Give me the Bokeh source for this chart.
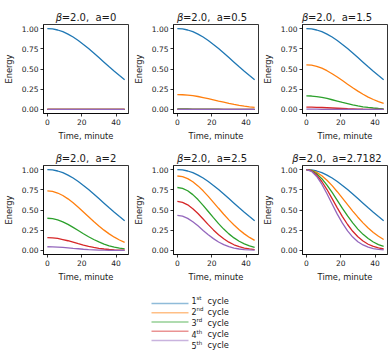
from bokeh.plotting import figure
from bokeh.layouts import column, row
from bokeh.models import Range1d, FixedTicker, NumeralTickFormatter, Label
from bokeh.embed import file_html
from bokeh.resources import INLINE

# ---------------- data ----------------
time_min = [0, 3, 6, 9, 12, 15, 18, 21, 24, 27, 30, 33, 36, 39, 42, 45]
beta_text = "2.0"
a_labels = ["0", "0.5", "1.5", "2", "2.5", "2.7182"]
cycle_numbers = ["1", "2", "3", "4", "5"]
cycle_suffixes = ["st", "nd", "rd", "th", "th"]
zeros = [0.0] * 16

first_cycle = [1.000, 0.996, 0.982, 0.961, 0.931, 0.895, 0.852, 0.804, 0.752, 0.698, 0.641, 0.584, 0.527, 0.472, 0.419, 0.368]

# a = 0
a0_c1 = first_cycle
a0_c2 = zeros
a0_c3 = zeros
a0_c4 = zeros
a0_c5 = zeros

# a = 0.5
a05_c1 = first_cycle
a05_c2 = [0.184, 0.182, 0.178, 0.170, 0.160, 0.147, 0.134, 0.119, 0.104, 0.090, 0.076, 0.063, 0.051, 0.041, 0.032, 0.025]
a05_c3 = [0.006, 0.006, 0.006, 0.005, 0.005, 0.004, 0.004, 0.003, 0.003, 0.002, 0.002, 0.001, 0.001, 0.001, 0.000, 0.000]
a05_c4 = zeros
a05_c5 = zeros

# a = 1.5
a15_c1 = first_cycle
a15_c2 = [0.552, 0.547, 0.533, 0.510, 0.479, 0.442, 0.401, 0.357, 0.312, 0.269, 0.227, 0.188, 0.153, 0.123, 0.097, 0.075]
a15_c3 = [0.168, 0.166, 0.159, 0.149, 0.136, 0.120, 0.104, 0.087, 0.072, 0.057, 0.044, 0.033, 0.025, 0.018, 0.012, 0.008]
a15_c4 = [0.028, 0.028, 0.026, 0.024, 0.021, 0.018, 0.015, 0.012, 0.009, 0.007, 0.005, 0.003, 0.002, 0.001, 0.001, 0.001]
a15_c5 = [0.003, 0.003, 0.003, 0.002, 0.002, 0.002, 0.001, 0.001, 0.001, 0.000, 0.000, 0.000, 0.000, 0.000, 0.000, 0.000]

# a = 2
a2_c1 = first_cycle
a2_c2 = [0.736, 0.730, 0.710, 0.679, 0.638, 0.589, 0.534, 0.476, 0.417, 0.358, 0.303, 0.251, 0.205, 0.164, 0.129, 0.100]
a2_c3 = [0.398, 0.393, 0.377, 0.353, 0.322, 0.285, 0.246, 0.207, 0.170, 0.135, 0.105, 0.079, 0.058, 0.042, 0.029, 0.020]
a2_c4 = [0.159, 0.156, 0.148, 0.135, 0.120, 0.102, 0.084, 0.067, 0.051, 0.038, 0.027, 0.018, 0.012, 0.008, 0.005, 0.003]
a2_c5 = [0.046, 0.045, 0.042, 0.038, 0.032, 0.026, 0.021, 0.015, 0.011, 0.008, 0.005, 0.003, 0.002, 0.001, 0.001, 0.000]

# a = 2.5
a25_c1 = first_cycle
a25_c2 = [0.920, 0.912, 0.888, 0.849, 0.798, 0.737, 0.668, 0.595, 0.521, 0.448, 0.378, 0.314, 0.256, 0.205, 0.161, 0.124]
a25_c3 = [0.778, 0.768, 0.738, 0.690, 0.629, 0.557, 0.481, 0.405, 0.331, 0.264, 0.205, 0.155, 0.114, 0.082, 0.057, 0.039]
a25_c4 = [0.606, 0.595, 0.564, 0.516, 0.456, 0.389, 0.319, 0.254, 0.194, 0.144, 0.102, 0.070, 0.047, 0.030, 0.019, 0.011]
a25_c5 = [0.433, 0.424, 0.396, 0.354, 0.304, 0.248, 0.194, 0.146, 0.104, 0.072, 0.047, 0.029, 0.018, 0.010, 0.006, 0.003]

# a = 2.7182
ae_c1 = first_cycle
ae_c2 = [1.000, 0.991, 0.965, 0.923, 0.868, 0.801, 0.726, 0.647, 0.566, 0.487, 0.411, 0.341, 0.278, 0.223, 0.175, 0.135]
ae_c3 = [1.000, 0.987, 0.948, 0.887, 0.808, 0.717, 0.619, 0.520, 0.426, 0.340, 0.264, 0.199, 0.147, 0.105, 0.073, 0.050]
ae_c4 = [1.000, 0.983, 0.931, 0.852, 0.753, 0.641, 0.527, 0.419, 0.321, 0.237, 0.169, 0.116, 0.077, 0.050, 0.031, 0.018]
ae_c5 = [1.000, 0.978, 0.915, 0.819, 0.701, 0.574, 0.449, 0.337, 0.241, 0.165, 0.108, 0.068, 0.041, 0.023, 0.013, 0.007]

x_ticks = [0, 20, 40]
y_ticks = [0.0, 0.25, 0.5, 0.75, 1.0]

# ---------------- styling ----------------
colors = ["#1f77b4", "#ff7f0e", "#2ca02c", "#d62728", "#9467bd"]
FONT = "DejaVu Sans"
TXT = "#1a1a1a"
NBSP = "\u00a0"
# approximate DejaVu Sans advance widths (em) for centering the titles
CW = {"=": 0.838, ".": 0.318, ",": 0.318, " ": 0.318, NBSP: 0.318, "a": 0.613}
for d in "0123456789":
    CW[d] = 0.636
BETA_W = 0.60
TITLE_PX = 10.0

FRAME_W = 85
FRAME_H = 89
frame_centers = [85.5, 211.5, 336.5]


def text_w(s, px):
    return sum(CW.get(ch, 0.6) for ch in s) * px


def make_panel(curves, left, right, bottom):
    p = figure(frame_width=FRAME_W, frame_height=FRAME_H,
               x_range=Range1d(-2.25, 47.25), y_range=Range1d(-0.05, 1.05),
               output_backend="svg", toolbar_location=None,
               min_border_left=left, min_border_right=right,
               min_border_top=1, min_border_bottom=bottom,
               background_fill_color="white", border_fill_color="white")
    for c, y in zip(colors, curves):
        p.line(time_min, y, line_color=c, line_width=1.3)
    p.grid.visible = False
    p.outline_line_color = "black"
    p.outline_line_width = 0.8
    for ax in (p.xaxis[0], p.yaxis[0]):
        ax.axis_line_width = 0.8
        ax.major_tick_line_width = 0.8
        ax.major_tick_out = 3
        ax.major_tick_in = 0
        ax.minor_tick_line_color = None
        ax.major_label_text_font = FONT
        ax.major_label_text_font_size = "7.5px"
        ax.major_label_text_color = TXT
        ax.major_label_standoff = 2
        ax.axis_label_text_font = FONT
        ax.axis_label_text_font_size = "8.3px"
        ax.axis_label_text_font_style = "normal"
        ax.axis_label_text_color = TXT
    p.xaxis.ticker = FixedTicker(ticks=x_ticks)
    p.yaxis.ticker = FixedTicker(ticks=y_ticks)
    p.yaxis.formatter = NumeralTickFormatter(format="0.00")
    p.xaxis.axis_label = "Time, minute"
    p.yaxis.axis_label = "Energy"
    p.xaxis.axis_label_standoff = 3
    p.yaxis.axis_label_standoff = 5
    return p


def make_title_strip(h, y_center, labels):
    s = figure(width=391, height=h, x_range=Range1d(0, 391), y_range=Range1d(h, 0),
               output_backend="svg", toolbar_location=None, min_border=0,
               x_axis_type=None, y_axis_type=None, outline_line_color=None,
               background_fill_color="white", border_fill_color="white")
    s.grid.visible = False
    for cx, a_txt in zip(frame_centers, labels):
        rest = "=" + beta_text + "," + NBSP + " a=" + a_txt
        total = BETA_W * TITLE_PX + text_w(rest, TITLE_PX)
        x0 = cx - total / 2.0
        s.add_layout(Label(x=x0, y=y_center, text="β",
                           text_font=FONT, text_font_style="italic",
                           text_font_size="10px", text_align="left",
                           text_baseline="middle", text_color=TXT))
        s.add_layout(Label(x=x0 + BETA_W * TITLE_PX, y=y_center, text=rest,
                           text_font=FONT, text_font_size="10px", text_align="left",
                           text_baseline="middle", text_color=TXT))
    return s


panels = [
    [a0_c1, a0_c2, a0_c3, a0_c4, a0_c5],
    [a05_c1, a05_c2, a05_c3, a05_c4, a05_c5],
    [a15_c1, a15_c2, a15_c3, a15_c4, a15_c5],
    [a2_c1, a2_c2, a2_c3, a2_c4, a2_c5],
    [a25_c1, a25_c2, a25_c3, a25_c4, a25_c5],
    [ae_c1, ae_c2, ae_c3, ae_c4, ae_c5],
]

borders_lr = [(43, 2), (39, 1), (39, 12)]
figs_top = []
figs_bot = []
for i, curves in enumerate(panels):
    l, r = borders_lr[i % 3]
    if i < 3:
        figs_top.append(make_panel(curves, l, r, 28))
    else:
        figs_bot.append(make_panel(curves, l, r, 29))

strip1 = make_title_strip(23, 17, a_labels[0:3])
strip2 = make_title_strip(21, 15, a_labels[3:6])

# ---------------- legend (drawn in pixel-like coordinates) ----------------
LEG_TOP = 281
LEG_H = 70
lp = figure(width=391, height=LEG_H, x_range=Range1d(0, 391),
            y_range=Range1d(LEG_TOP + LEG_H, LEG_TOP),
            output_backend="svg", toolbar_location=None, min_border=0,
            x_axis_type=None, y_axis_type=None, outline_line_color=None,
            background_fill_color="white", border_fill_color="white")
lp.grid.visible = False
n = len(cycle_numbers)
line_y = [300 + 9.25 * k for k in range(n)]
lp.segment(x0=[151] * n, y0=line_y, x1=[188] * n, y1=line_y,
           line_color=colors, line_alpha=0.5, line_width=1.3)
for k in range(n):
    ty = 297 + 11.2 * k
    lp.add_layout(Label(x=191, y=ty, text=cycle_numbers[k], text_font=FONT,
                        text_font_size="8px", text_baseline="middle",
                        text_align="left", text_color=TXT))
    lp.add_layout(Label(x=196, y=ty - 2.5, text=cycle_suffixes[k], text_font=FONT,
                        text_font_size="5.5px", text_baseline="middle",
                        text_align="left", text_color=TXT))
    lp.add_layout(Label(x=207, y=ty, text="cycle", text_font=FONT,
                        text_font_size="8.3px", text_baseline="middle",
                        text_align="left", text_color=TXT))

layout = column(strip1, row(*figs_top), strip2, row(*figs_bot), lp)

with open("out.html", "w") as f:
    f.write(file_html(layout, INLINE))
